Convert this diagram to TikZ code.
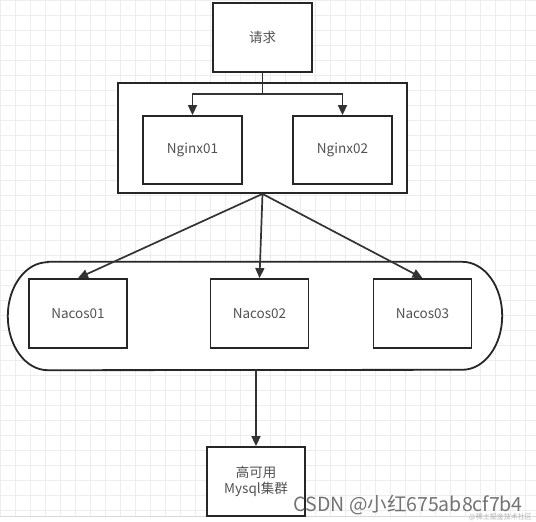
\documentclass[tikz,border=0pt]{standalone}
\usepackage{fontspec}
\setmainfont{Noto Sans CJK SC}
\usetikzlibrary{arrows.meta,positioning}
\begin{document}
\begin{tikzpicture}[x=1pt,y=-1pt,
  box/.style={draw=black!85,line width=1.8pt,fill=white,inner sep=0pt,font=\fontsize{13.5}{16}\selectfont,text=black!68,align=center},
  conn/.style={draw=black!80,line width=1.7pt},
  arr/.style={conn,-{Triangle[length=10pt,width=9pt]}}]
\useasboundingbox (0,0) rectangle (536,522);
\fill[white] (0,0) rectangle (536,522);
\foreach \gx in {0,15,...,535} \draw[black!7,line width=0.5pt] (\gx,0) -- (\gx,516);
\foreach \gy in {0,15,...,515} \draw[black!7,line width=0.5pt] (0,\gy) -- (536,\gy);
\draw[black!15,line width=0.6pt] (0,516) -- (536,516);
% request
\node[box,minimum width=99pt,minimum height=69pt] (req) at (262.5,37.5) {请求};
% nginx group
\node[box,minimum width=289pt,minimum height=110pt] (ngbox) at (262.5,138) {};
\node[box,minimum width=99pt,minimum height=68pt] (ng1) at (192.5,150) {Nginx01};
\node[box,minimum width=99pt,minimum height=68pt] (ng2) at (342.5,150) {Nginx02};
% nacos group (stadium shape with elliptical ends)
\node[minimum width=494pt,minimum height=108pt,inner sep=0pt] (nacbox) at (255,316) {};
\draw[draw=black!85,line width=1.8pt,fill=white]
  ([xshift=40pt]nacbox.north west) -- ([xshift=-40pt]nacbox.north east)
  arc[start angle=90,end angle=-90,x radius=40pt,y radius=54pt]
  -- ([xshift=40pt]nacbox.south west)
  arc[start angle=270,end angle=90,x radius=40pt,y radius=54pt] -- cycle;
\node[box,minimum width=98pt,minimum height=69pt] (nc1) at (78,313.5) {Nacos01};
\node[box,minimum width=98pt,minimum height=69pt] (nc2) at (259.5,313.5) {Nacos02};
\node[box,minimum width=98pt,minimum height=69pt] (nc3) at (422.5,313.5) {Nacos03};
% mysql
\node[box,minimum width=98pt,minimum height=69pt] (db) at (256,481.5) {高可用\\Mysql集群};
% connectors
\coordinate (split) at (262.5,94);
\draw[conn] (req.south) -- (split);
\draw[arr] (split) -| (ng1.north);
\draw[arr] (split) -| (ng2.north);
\draw[arr] (ngbox.south) -- (nc1.north);
\draw[arr] (ngbox.south) -- (nc2.north);
\draw[arr] (ngbox.south) -- (nc3.north);
\draw[arr] (db.north |- nacbox.south) -- (db.north);
% watermark
\node[anchor=base east,inner sep=0pt,text=black!55,font=\fontsize{19.5}{22}\selectfont] (wm) at (523,511) {CSDN @小红675ab8cf7b4};
\node[anchor=base east,inner sep=0pt,text=black!30,font=\fontsize{7}{8}\selectfont] (wm2) at (532,519) {@稀土掘金技术社区};
\end{tikzpicture}
\end{document}
